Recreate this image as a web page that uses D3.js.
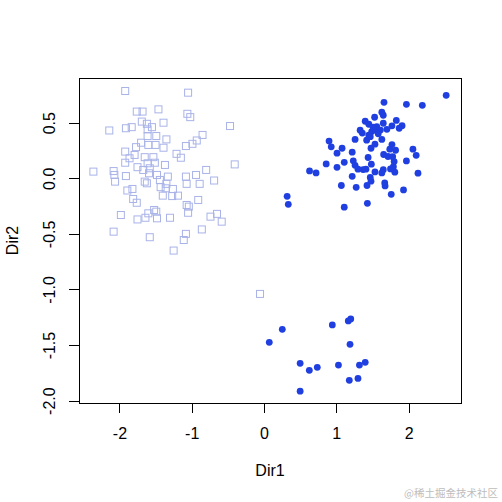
<!DOCTYPE html>
<html>
<head>
<meta charset="utf-8">
<script src="https://cdn.jsdelivr.net/npm/d3@7"></script>
<style>
  html, body { margin: 0; padding: 0; background: #fff; }
  svg { display: block; }
</style>
</head>
<body>
<svg id="chart" width="502" height="502"></svg>
<script>
// ---- Data ----
// Group 1: open squares (light lavender)
const squareX = [-1.92,-1.05,-1.76,-1.68,-1.46,-1.06,-1.02,-1.69,-1.39,-0.47,
  -2.14,-1.91,-1.83,-1.62,-1.55,-1.61,-0.85,-1.61,-1.49,-1.35,
  -0.93,-0.99,-1.08,-1.70,-1.60,-1.50,-1.39,-1.77,-1.92,-1.79,
  -1.21,-1.15,-1.86,-1.92,-1.65,-1.53,-1.61,-1.51,-1.37,-1.75,
  -1.67,-1.58,-2.36,-2.08,-2.07,-2.06,-1.91,-1.59,-1.48,-1.33,
  -1.08,-0.94,-0.80,-0.405,-0.69,-1.07,-0.89,-1.62,-1.65,-1.44,
  -1.35,-1.43,-1.36,-1.26,-1.89,-1.82,-1.40,-1.27,-1.19,-1.81,
  -1.76,-0.91,-1.07,-1.04,-1.52,-1.49,-1.60,-1.05,-1.98,-0.65,
  -0.74,-0.585,-1.30,-1.48,-1.64,-1.75,-0.86,-2.08,-1.58,-1.08,
  -1.11,-1.25,-0.055];
const squareY = [0.785,0.77,0.60,0.60,0.62,0.58,0.55,0.51,0.50,0.47,
  0.43,0.45,0.46,0.49,0.46,0.44,0.39,0.38,0.38,0.35,
  0.34,0.31,0.29,0.32,0.30,0.30,0.275,0.28,0.24,0.21,
  0.22,0.185,0.18,0.14,0.19,0.19,0.135,0.14,0.12,0.10,
  0.075,0.09,0.06,0.065,0.03,-0.03,0.02,0.045,0.03,0.015,
  0.015,0.03,0.075,0.125,-0.02,-0.05,-0.05,-0.045,-0.03,-0.015,
  -0.05,-0.08,-0.09,-0.096,-0.11,-0.096,-0.156,-0.16,-0.156,-0.186,
  -0.22,-0.195,-0.24,-0.255,-0.285,-0.30,-0.315,-0.31,-0.33,-0.32,
  -0.345,-0.39,-0.355,-0.36,-0.355,-0.37,-0.46,-0.48,-0.53,-0.50,
  -0.555,-0.65,-1.04];

// Group 2: filled circles (blue)
const circleX = [2.52,1.66,1.97,2.19,1.63,1.65,1.53,1.40,1.45,1.83,
  1.56,1.65,1.77,1.91,1.87,1.33,1.36,1.49,1.61,1.70,
  1.45,1.545,1.26,1.42,1.47,1.63,0.90,0.93,1.08,1.01,
  1.22,1.48,1.535,1.77,1.74,1.82,2.06,2.105,1.655,1.715,
  1.78,1.97,1.44,1.11,0.86,1.235,1.26,1.485,1.01,1.30,
  1.37,1.41,1.79,1.81,1.75,0.63,0.72,1.535,1.65,1.63,
  2.13,1.22,1.47,1.48,1.67,1.675,1.07,1.275,1.425,1.93,
  1.76,0.32,0.336,1.11,1.43,1.80,1.58,1.51,
  0.073,0.253,0.945,1.166,1.20,1.19,0.50,0.627,0.737,1.03,
  1.32,1.40,1.18,1.30,0.50];
const circleY = [0.746,0.683,0.665,0.656,0.594,0.567,0.549,0.513,0.486,0.52,
  0.464,0.495,0.472,0.473,0.45,0.433,0.407,0.42,0.434,0.44,
  0.387,0.434,0.35,0.343,0.374,0.35,0.335,0.283,0.27,0.226,
  0.235,0.27,0.307,0.303,0.262,0.252,0.262,0.207,0.214,0.196,
  0.194,0.156,0.187,0.144,0.129,0.157,0.117,0.127,0.099,0.082,
  0.078,0.082,0.104,0.055,0.084,0.066,0.048,0.057,0.077,0.048,
  0.046,0.018,0.007,-0.026,-0.042,-0.069,-0.065,-0.081,-0.065,-0.105,
  -0.144,-0.162,-0.234,-0.26,-0.225,0.15,0.40,0.46,
  -1.475,-1.358,-1.319,-1.283,-1.265,-1.493,-1.664,-1.727,-1.70,-1.68,
  -1.68,-1.655,-1.817,-1.80,-1.915];

const xTicks = [-2, -1, 0, 1, 2];
const xTickLabels = ["-2", "-1", "0", "1", "2"];
const yTicks = [-2.0, -1.5, -1.0, -0.5, 0.0, 0.5];
const yTickLabels = ["-2.0", "-1.5", "-1.0", "-0.5", "0.0", "0.5"];
const xTitle = "Dir1";
const yTitle = "Dir2";
const watermark = "@稀土掘金技术社区";

(function () {
  // ---- Layout ----
  const svg = d3.select("#chart");
  const pL = 79, pR = 461, pT = 78, pB = 403;
  const font = "'Liberation Sans', Arial, sans-serif";

  const x = d3.scaleLinear().domain([-2.559, 2.725]).range([pL, pR]);
  const y = d3.scaleLinear().domain([-2.021, 0.902]).range([pB, pT]);

  const squares = squareX.map((v, i) => ({ x: v, y: squareY[i] }));
  const circles = circleX.map((v, i) => ({ x: v, y: circleY[i] }));
  const side = 7;

  svg.append("g").selectAll("rect").data(squares).join("rect")
    .attr("x", d => x(d.x) - side / 2)
    .attr("y", d => y(d.y) - side / 2)
    .attr("width", side).attr("height", side)
    .attr("fill", "none")
    .attr("stroke", "#a9b3e8")
    .attr("stroke-width", 1);

  svg.append("g").selectAll("circle").data(circles).join("circle")
    .attr("cx", d => x(d.x))
    .attr("cy", d => y(d.y))
    .attr("r", 3.4)
    .attr("fill", "#1f3fe0");

  // Box
  svg.append("rect")
    .attr("x", pL).attr("y", pT)
    .attr("width", pR - pL).attr("height", pB - pT)
    .attr("fill", "none").attr("stroke", "#000").attr("stroke-width", 1)
    .attr("shape-rendering", "crispEdges");

  // X axis
  const xAxis = svg.append("g")
    .attr("transform", `translate(0,${pB})`)
    .call(d3.axisBottom(x).tickValues(xTicks).tickSize(10)
      .tickFormat((d, i) => xTickLabels[i]));
  xAxis.select(".domain").remove();
  xAxis.selectAll("line").attr("stroke", "#000").attr("shape-rendering", "crispEdges");
  xAxis.selectAll("text")
    .attr("y", 36).attr("dy", null)
    .attr("fill", "#000")
    .style("font-family", font).style("font-size", "16px");

  // Y axis
  const yAxis = svg.append("g")
    .attr("transform", `translate(${pL},0)`)
    .call(d3.axisLeft(y).tickValues(yTicks).tickSize(10)
      .tickFormat((d, i) => yTickLabels[i]));
  yAxis.select(".domain").remove();
  yAxis.selectAll("line").attr("stroke", "#000").attr("shape-rendering", "crispEdges");
  yAxis.selectAll("text")
    .attr("x", 0).attr("y", -24).attr("dy", null)
    .attr("transform", "rotate(-90)")
    .attr("text-anchor", "middle")
    .attr("fill", "#000")
    .style("font-family", font).style("font-size", "16px");

  // Axis titles
  svg.append("text")
    .attr("x", (pL + pR) / 2).attr("y", 476)
    .attr("text-anchor", "middle")
    .style("font-family", font).style("font-size", "16px")
    .text(xTitle);

  svg.append("text")
    .attr("transform", `translate(18,${(pT + pB) / 2}) rotate(-90)`)
    .attr("text-anchor", "middle")
    .style("font-family", font).style("font-size", "16px")
    .text(yTitle);

  // Watermark
  svg.append("text")
    .attr("x", 498).attr("y", 497)
    .attr("text-anchor", "end")
    .attr("fill", "#bdbdbd")
    .style("font-family", "'Noto Sans CJK SC', sans-serif").style("font-size", "10.5px")
    .text(watermark);
})();
</script>
</body>
</html>
